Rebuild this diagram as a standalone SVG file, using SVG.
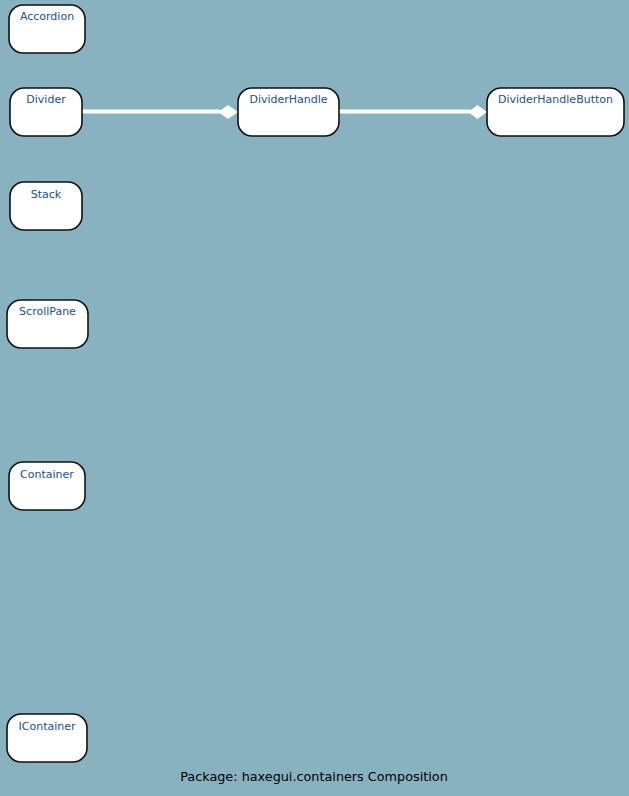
<svg xmlns="http://www.w3.org/2000/svg" width="629" height="796" viewBox="0 0 629 796">
  <style>
    .node rect { fill: #ffffff; stroke: #111111; stroke-width: 1.6; }
    .node text { font-family: "DejaVu Sans", sans-serif; font-size: 11px; fill: #1b4f8c; text-anchor: middle; }
    .edge line { stroke: #ffffff; stroke-width: 4; }
    .edge polygon { fill: #ffffff; }
    .caption { font-family: "DejaVu Sans", sans-serif; font-size: 12.8px; fill: #000000; text-anchor: middle; }
  </style>
  <rect x="0" y="0" width="629" height="796" fill="#88b2c0"/>

  <g id="connectors" class="edge">
    <line x1="82" y1="111.5" x2="220" y2="111.5"/>
    <polygon points="218,112 228,105 238,112 228,119"/>
    <line x1="339" y1="111.5" x2="470" y2="111.5"/>
    <polygon points="468,112 477.5,105 487,112 477.5,119"/>
  </g>

  <g id="Accordion" class="node">
    <rect x="9" y="5" width="76" height="48" rx="14"/>
    <text x="47" y="20">Accordion</text>
  </g>
  <g id="Divider" class="node">
    <rect x="10" y="88" width="72" height="48" rx="14"/>
    <text x="46" y="103">Divider</text>
  </g>
  <g id="DividerHandle" class="node">
    <rect x="238" y="88" width="101" height="48" rx="14"/>
    <text x="288.5" y="103">DividerHandle</text>
  </g>
  <g id="DividerHandleButton" class="node">
    <rect x="487" y="88" width="137" height="48" rx="14"/>
    <text x="555.5" y="103">DividerHandleButton</text>
  </g>
  <g id="Stack" class="node">
    <rect x="10" y="182" width="72" height="48" rx="14"/>
    <text x="46" y="198">Stack</text>
  </g>
  <g id="ScrollPane" class="node">
    <rect x="7" y="300" width="81" height="48" rx="14"/>
    <text x="47.5" y="315">ScrollPane</text>
  </g>
  <g id="Container" class="node">
    <rect x="9" y="462" width="76" height="48" rx="14"/>
    <text x="47" y="478">Container</text>
  </g>
  <g id="IContainer" class="node">
    <rect x="7" y="714" width="80" height="48" rx="14"/>
    <text x="47" y="730">IContainer</text>
  </g>

  <text class="caption" x="314" y="781">Package: haxegui.containers Composition</text>
</svg>
